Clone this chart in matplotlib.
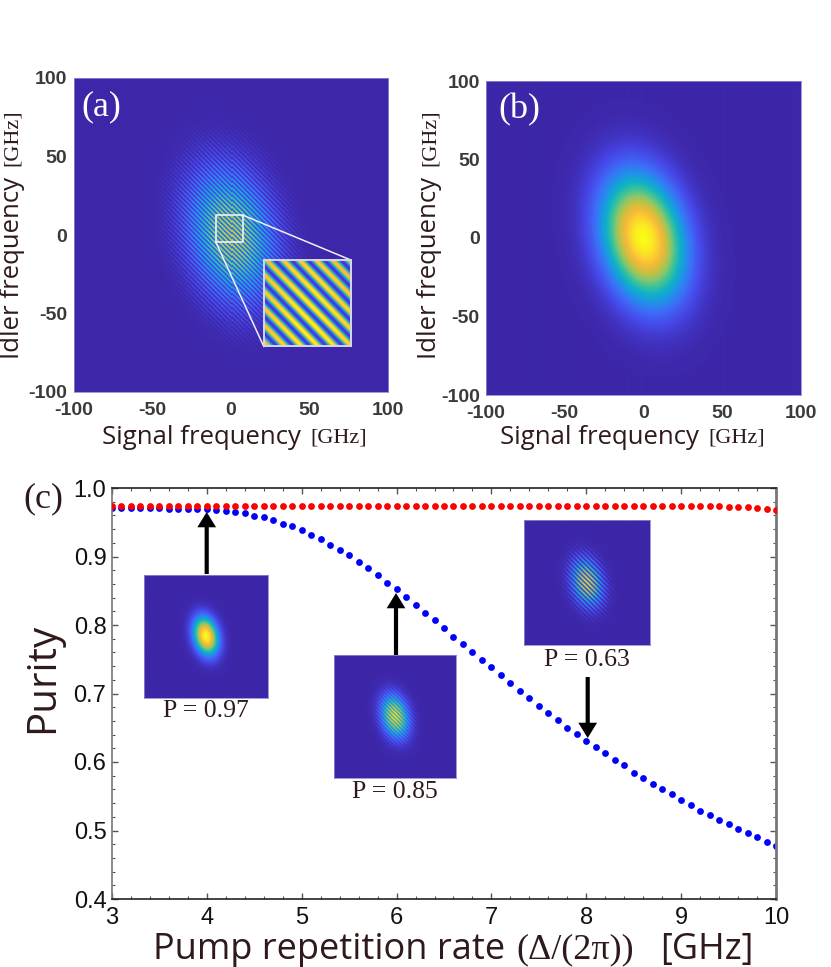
import matplotlib
matplotlib.use('Agg')
import matplotlib.pyplot as plt
import numpy as np
from matplotlib.colors import LinearSegmentedColormap
from matplotlib.patches import FancyArrowPatch
from matplotlib.ticker import MultipleLocator

plt.rcParams['axes.unicode_minus'] = False

W, H = 831, 967

# Чистота от частоты повторения
rep_rate = [3.0, 3.1, 3.2, 3.3, 3.4, 3.5, 3.6, 3.7, 3.8, 3.9,
            4.0, 4.1, 4.2, 4.3, 4.4, 4.5, 4.6, 4.7, 4.8, 4.9,
            5.0, 5.1, 5.2, 5.3, 5.4, 5.5, 5.6, 5.7, 5.8, 5.9,
            6.0, 6.1, 6.2, 6.3, 6.4, 6.5, 6.6, 6.7, 6.8, 6.9,
            7.0, 7.1, 7.2, 7.3, 7.4, 7.5, 7.6, 7.7, 7.8, 7.9,
            8.0, 8.1, 8.2, 8.3, 8.4, 8.5, 8.6, 8.7, 8.8, 8.9,
            9.0, 9.1, 9.2, 9.3, 9.4, 9.5, 9.6, 9.7, 9.8, 9.9, 10.0]
purity_blue = [.971, .971, .971, .971, .971, .971, .970, .970, .970, .969,
               .969, .968, .966, .965, .963, .959, .957, .953, .947, .944,
               .938, .932, .925, .917, .910, .902, .892, .883, .873, .862,
               .852, .841, .829, .818, .807, .795, .783, .772, .761, .749,
               .738, .727, .715, .704, .693, .682, .671, .661, .650, .641,
               .631, .622, .613, .603, .595, .584, .577, .568, .560, .553,
               .545, .537, .529, .523, .516, .510, .502, .497, .491, .483, .478]
purity_red = [.974] * 63 + [.973, .973, .972, .972, .972, .971, .970, .968]

ticks_freq = [-100, -50, 0, 50, 100]
ticks_c_x = [3, 4, 5, 6, 7, 8, 9, 10]
ticks_c_y = [0.4, 0.5, 0.6, 0.7, 0.8, 0.9, 1.0]

# Опорные цвета карты (parula)
parula_colors = ['#3d26a8', '#4646e6', '#3e6cf8', '#1f93e8', '#0fb0c8',
                 '#3ac29a', '#86c76e', '#c8c040', '#f5b93a', '#fcd62c', '#f9fb15']
parula = LinearSegmentedColormap.from_list('parula', parula_colors)

TXT = '#2e1a1a'
SANS = 'Open Sans'
SERIF = 'Liberation Serif'

# Огибающая спектра (эллипс) читается по панели (b)
SIG_X, SIG_Y, TILT = 17, 26, 0.0005


def ax_px(left, top, right, bottom):
    return [left / W, 1 - bottom / H, (right - left) / W, (bottom - top) / H]


def txt(x, y, s, **kw):
    fig.text(x / W, 1 - y / H, s, va='center', **kw)


# Модель спектра: гауссов эллипс с интерференционными полосами
def jsi(x, y, peak=1.0, fringe=0.0, period=3.0):
    X, Y = np.meshgrid(x, y)
    g = np.exp(-(X**2 / (2 * SIG_X**2) + Y**2 / (2 * SIG_Y**2) + TILT * X * Y))
    return g * peak * (1 - fringe + fringe * np.cos(np.pi * (X + Y) / period)**2)


def show(ax, Z, lim=100, interp='bilinear'):
    ax.imshow(Z, cmap=parula, vmin=0, vmax=1, origin='lower',
              extent=[-lim, lim, -lim, lim], aspect='auto', interpolation=interp)


def setup_freq(ax, left, sig_x):
    ax.set_xlim(-100, 100)
    ax.set_ylim(-100, 100)
    ax.set_xticks(ticks_freq)
    ax.set_yticks(ticks_freq)
    ax.tick_params(axis='x', length=0, pad=7)
    ax.tick_params(axis='y', length=0, pad=4.5)
    for lab in ax.get_xticklabels() + ax.get_yticklabels():
        lab.set_fontfamily('Liberation Sans')
        lab.set_fontweight('bold')
        lab.set_fontsize(14)
        lab.set_color('#3a3a3a')
    for s in ax.spines.values():
        s.set_color('#8f88d0')
        s.set_linewidth(0.6)
    txt(sig_x, 438, 'Signal frequency', ha='left', fontsize=18.5, family=SANS, color=TXT)
    txt(sig_x + 208, 438, '[GHz]', ha='left', fontsize=16, family=SERIF, color=TXT)
    txt(left - 61, 268, 'Idler frequency', ha='center', rotation=90, fontsize=18.5,
        family=SANS, color=TXT)
    txt(left - 61, 138, '[GHz]', ha='center', rotation=90, fontsize=16, family=SERIF, color=TXT)


fig = plt.figure(figsize=(W / 100, H / 100), dpi=100)

# (a)
ax_a = fig.add_axes(ax_px(73.5, 78, 388, 392))
grid_a = np.linspace(-100, 100, 314)
show(ax_a, jsi(grid_a, grid_a, 0.82, 0.8, 3.0), interp='nearest')
setup_freq(ax_a, 73.5, 102)
ax_a.text(-82, 81.5, '(a)', color='white', fontsize=26, family=SERIF, va='center', ha='center')

# Выноска с увеличенным участком
box = (-9.5, -4.5, 8, 12.5)
ax_a.plot([box[0], box[2], box[2], box[0], box[0]], [box[1], box[1], box[3], box[3], box[1]],
          color='#f0f0f0', lw=1.2)
ins_l, ins_b, ins_r, ins_t = 21, -71, 76.5, -16
ax_a.plot([box[2], ins_r], [box[3], ins_t], color='#f0f0f0', lw=1.1)
ax_a.plot([box[0], ins_l], [box[1], ins_b], color='#f0f0f0', lw=1.1)
ax_in = ax_a.inset_axes([ins_l, ins_b, ins_r - ins_l, ins_t - ins_b], transform=ax_a.transData)
ax_in.imshow(jsi(np.linspace(box[0], box[2], 300), np.linspace(box[1], box[3], 300), 1.0, 0.95, 3.3),
             cmap=parula, vmin=0, vmax=1, origin='lower', aspect='auto')
ax_in.set_xticks([])
ax_in.set_yticks([])
for s in ax_in.spines.values():
    s.set_color('#d8d4f0')
    s.set_linewidth(1.4)

# (b)
ax_b = fig.add_axes(ax_px(486, 81, 801, 395))
grid_b = np.linspace(-100, 100, 628)
show(ax_b, jsi(grid_b, grid_b))
setup_freq(ax_b, 491, 500)
ax_b.text(-79, 82, '(b)', color='white', fontsize=26, family=SERIF, va='center', ha='center')

# (c)
ax_c = fig.add_axes(ax_px(112, 488, 776, 899))
ax_c.scatter(rep_rate, purity_blue, s=24, color='#0000ff', lw=0, zorder=2)
ax_c.scatter(rep_rate, purity_red, s=24, color='#ff0000', lw=0, zorder=3)
ax_c.set_xlim(3, 10)
ax_c.set_ylim(0.4, 1.0)
ax_c.set_xticks(ticks_c_x)
ax_c.set_yticks(ticks_c_y)
ax_c.set_yticklabels(['0.4', '0.5', '0.6', '0.7', '0.8', '0.9', '1.0'])
ax_c.xaxis.set_minor_locator(MultipleLocator(0.2))
ax_c.yaxis.set_minor_locator(MultipleLocator(0.02))
ax_c.tick_params(which='major', direction='in', length=4, width=1, color='#555555', top=True,
                 right=True, labelsize=17, labelcolor='#111111')
ax_c.tick_params(axis='x', which='major', pad=6)
ax_c.tick_params(axis='y', which='major', pad=4)
ax_c.tick_params(which='minor', direction='in', length=2.2, width=0.8, color='#555555', top=True,
                 right=True)
for lab in ax_c.get_xticklabels() + ax_c.get_yticklabels():
    lab.set_fontfamily('Liberation Sans')
for name, s in ax_c.spines.items():
    s.set_linewidth(1.2)
    s.set_color('#777777' if name in ('left', 'right') else '#222222')
ax_c.spines['right'].set_linewidth(2)

txt(23, 499, '(c)', fontsize=26, family=SERIF, color=TXT, ha='left')
txt(43, 678, 'Purity', fontsize=29, family=SANS, color=TXT, rotation=90, ha='center')
txt(153, 950, 'Pump repetition rate', fontsize=26, family=SANS, color=TXT, ha='left')
txt(516, 950, '(Δ/(2π))', fontsize=26, family=SERIF, color=TXT, ha='left')
txt(660, 950, '[GHz]', fontsize=26, family=SANS, color=TXT, ha='left')

# Маленькие карты и стрелки
small = [
    ((144, 574.5, 268, 698), 132, 0.0, 5.0, 'P = 0.97', 711, 206.7, 574, 512),
    ((334, 655, 456, 778), 120, 0.6, 7.7, 'P = 0.85', 792, 396, 655, 593),
    ((524, 520, 650, 645), 112, 1.0, 8.3, 'P = 0.63', 660, 587.7, 677, 738),
]
for (l, t, r, b), lim, fr, per, label, ty, ar_x, y0, y1 in small:
    ax_s = fig.add_axes(ax_px(l, t, r, b))
    grid_s = np.linspace(-lim, lim, 480)
    show(ax_s, jsi(grid_s, grid_s, 1.0, fr, per), lim=lim)
    ax_s.set_xticks([])
    ax_s.set_yticks([])
    for s in ax_s.spines.values():
        s.set_color('#8f88d0')
        s.set_linewidth(0.6)
    txt((l + r) / 2, ty, label, fontsize=18.5, family=SERIF, color=TXT, ha='center')
    fig.add_artist(FancyArrowPatch(
        (ar_x / W, 1 - y0 / H), (ar_x / W, 1 - y1 / H), transform=fig.transFigure,
        arrowstyle='simple,head_length=11,head_width=13.5,tail_width=3', color='black', lw=0,
        shrinkA=0, shrinkB=0, mutation_scale=1, zorder=10))

fig.savefig('out.png', dpi=100)
